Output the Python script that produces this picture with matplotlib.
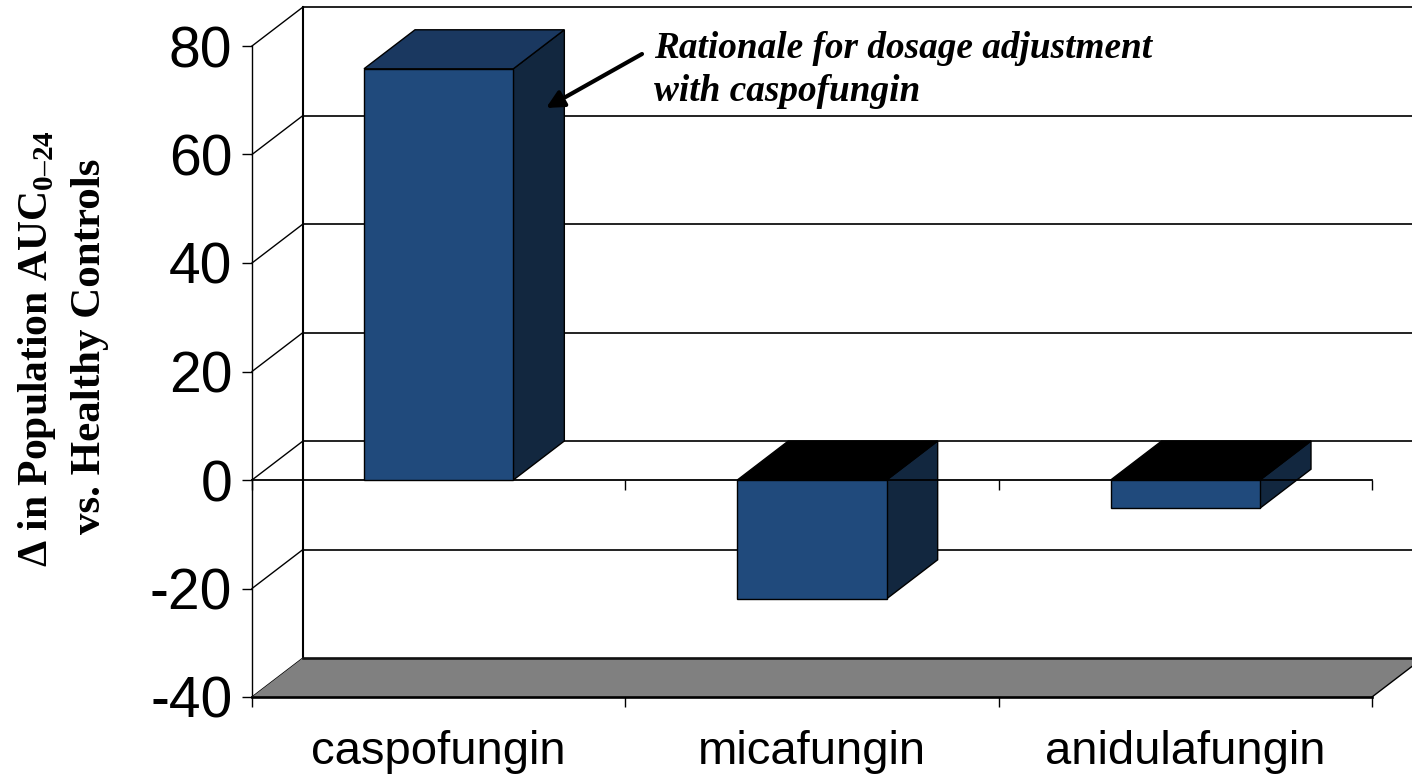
# -*- coding: utf-8 -*-
"""Fake 3D column chart of population AUC change, drawn on one flat axes."""

import matplotlib
matplotlib.use('Agg')
import matplotlib.pyplot as plt
from matplotlib.patches import Polygon

plt.rcParams['mathtext.fontset'] = 'custom'
plt.rcParams['mathtext.rm'] = 'Liberation Serif:bold'
plt.rcParams['mathtext.bf'] = 'Liberation Serif:bold'

# Data
categories = ['caspofungin', 'micafungin', 'anidulafungin']
values = [75.8, -21.9, -5.2]
y_ticks = [-40, -20, 0, 20, 40, 60, 80]

# Colours
c_front = '#204A7C'
c_top = '#1A3860'
c_side = '#12273F'
c_floor = '#808080'

W, H = 1412, 774
fig = plt.figure(figsize=(W / 100, H / 100), dpi=100, facecolor='white')
ax = fig.add_axes([252 / W, (H - 697) / H, 1120 / W, 651 / H])
ax.set_xlim(0, 3)
ax.set_ylim(-40, 80)
ax.patch.set_visible(False)
for spine in ax.spines.values():
    spine.set_visible(False)

# Depth of the fake 3D box, in data units
dx = 51 / 373.3
dy = 39 / 5.425
bar_w = 0.4
lw = 1.3

# Back wall and gridlines
for y in y_ticks:
    if y > -40:
        ax.plot([dx, 3 + dx], [y + dy, y + dy], color='#111111', lw=lw, clip_on=False, zorder=1)
    ax.plot([0, dx], [y, y + dy], color='black', lw=1.0, clip_on=False, zorder=1)
ax.plot([dx, dx], [-40 + dy, 80 + dy], color='black', lw=1.5, clip_on=False, zorder=1)
ax.plot([0, 0], [-40, 80], color='black', lw=1.0, clip_on=False, zorder=1)

# Floor
floor = Polygon([(0, -40), (3, -40), (3 + dx, -40 + dy), (dx, -40 + dy)], closed=True,
                facecolor=c_floor, edgecolor='none', clip_on=False, zorder=2)
ax.add_patch(floor)
ax.plot([dx, 3 + dx], [-40 + dy, -40 + dy], color='#111111', lw=1.9, clip_on=False, zorder=2)
ax.plot([0, 3], [-40, -40], color='black', lw=1.9, clip_on=False, zorder=2)
ax.plot([3, 3 + dx], [-40, -40 + dy], color='black', lw=1.0, clip_on=False, zorder=2)

# Bars: side and top first, then the zero line, then the front faces
centers = [i + 0.5 for i in range(len(categories))]
for c, v in zip(centers, values):
    x0, x1 = c - bar_w / 2, c + bar_w / 2
    t = max(v, 0)
    side = Polygon([(x1, 0), (x1, v), (x1 + dx, v + dy), (x1 + dx, dy)], closed=True,
                   facecolor=c_side, edgecolor='black', lw=1.0, clip_on=False, zorder=3)
    top = Polygon([(x0, t), (x1, t), (x1 + dx, t + dy), (x0 + dx, t + dy)], closed=True,
                  facecolor=c_top if v > 0 else 'black', edgecolor='black', lw=1.0,
                  clip_on=False, zorder=3)
    ax.add_patch(side)
    ax.add_patch(top)

ax.plot([0, 3], [0, 0], color='black', lw=lw, clip_on=False, zorder=4)
ax.vlines([0, 1, 2, 3], -40 * 10 / 217, 0, color='black', lw=1.0, clip_on=False, zorder=4)
ax.bar(centers, values, width=bar_w, color=c_front, edgecolor='black', linewidth=1.0, zorder=5)

# Ticks
ax.set_yticks(y_ticks)
ax.set_yticklabels([str(y) for y in y_ticks], fontfamily='Liberation Sans', fontsize=41)
ax.tick_params(axis='y', length=7.2, width=1.0, pad=7)
ax.set_xticks([0, 1, 2, 3])
ax.set_xticklabels([])
ax.tick_params(axis='x', length=7.2, width=1.0)
ax.set_xticks(centers, minor=True)
ax.set_xticklabels(categories, minor=True, fontfamily='Liberation Sans', fontsize=34)
ax.tick_params(axis='x', which='minor', length=0, pad=24)

# Axis title, two rotated lines
fig.text(37 / W, 1 - 349 / H, '\u0394 in Population AUC$_{0\u201324}$', rotation=90, ha='center', va='center',
         fontfamily='Liberation Serif', fontweight='bold', fontsize=30)
fig.text(90 / W, 1 - 346 / H, 'vs. Healthy Controls', rotation=90, ha='center', va='center',
         fontfamily='Liberation Serif', fontweight='bold', fontsize=31)

# Annotation
fig.text(654 / W, 1 - 58 / H, 'Rationale for dosage adjustment', ha='left', va='baseline',
         fontfamily='Liberation Serif', fontweight='bold', fontstyle='italic', fontsize=26.8)
fig.text(654 / W, 1 - 101 / H, 'with caspofungin', ha='left', va='baseline',
         fontfamily='Liberation Serif', fontweight='bold', fontstyle='italic', fontsize=26.8)
ax.annotate('', xy=(546, H - 108), xytext=(642, H - 54), xycoords='figure pixels', textcoords='figure pixels',
            arrowprops=dict(arrowstyle='-|>', color='black', lw=3, mutation_scale=26, shrinkA=0, shrinkB=0),
            zorder=6)

fig.savefig('out.png', dpi=100, facecolor='white')
